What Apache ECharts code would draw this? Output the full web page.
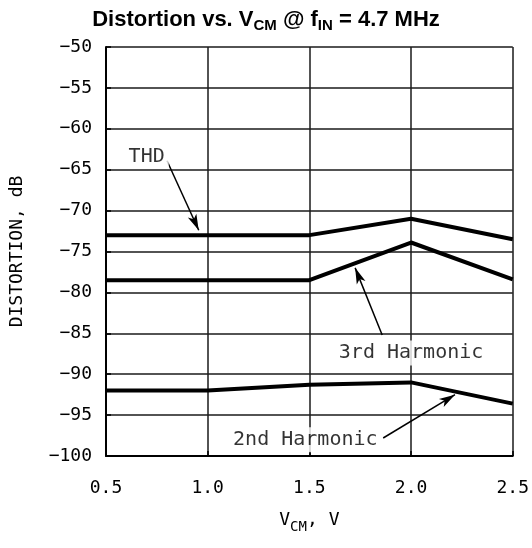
<!DOCTYPE html>
<html>
<head>
<meta charset="utf-8">
<script src="https://cdn.jsdelivr.net/npm/echarts@6/dist/echarts.min.js"></script>
<style>
  html, body { margin: 0; padding: 0; background: #fff; }
  #chart { width: 532px; height: 548px; }
</style>
</head>
<body>
<div id="chart"></div>
<script>
const vcm = [0.5, 1.0, 1.5, 2.0, 2.5];
const thd = [-73, -73, -73, -71, -73.5];
const third = [-78.5, -78.5, -78.5, -73.9, -78.4];
const second = [-92, -92, -91.3, -91, -93.6];

// annotation text anchors and arrows, in data units
const labelText = ['THD', '3rd Harmonic', '2nd Harmonic'];
const labelPos = [[0.70, -63.4], [2.0, -87.4], [1.48, -98.0]];
const arrowFrom = [[0.80, -63.9], [1.858, -85.2], [1.863, -97.8]];
const arrowTo = [[0.956, -72.4], [1.725, -77.0], [2.216, -92.5]];

const monoFont = 'DejaVu Sans Mono';
const ink = '#000';

function pairs(xs, ys) {
    return xs.map(function (x, i) { return [x, ys[i]]; });
}

function curve(name, ys) {
    return {
        name: name,
        type: 'line',
        data: pairs(vcm, ys),
        symbol: 'none',
        lineStyle: { color: ink, width: 4 },
        z: 3,
        silent: true
    };
}

const chart = echarts.init(document.getElementById('chart'));

chart.setOption({
    backgroundColor: '#fff',
    animation: false,
    title: {
        text: '{b|Distortion vs. V}{s|CM}{b| @ f}{s|IN}{b| = 4.7 MHz}',
        left: 'center',
        top: 2,
        textStyle: {
            rich: {
                b: { fontFamily: 'Liberation Sans', fontWeight: 'bold', fontSize: 22, color: ink },
                s: { fontFamily: 'Liberation Sans', fontWeight: 'bold', fontSize: 15, color: ink, verticalAlign: 'bottom', padding: [11, 0, 0, 0] }
            }
        }
    },
    grid: { left: 105, right: 19, top: 47, bottom: 92 },
    xAxis: {
        type: 'value',
        min: 0.5,
        max: 2.5,
        interval: 0.5,
        name: '{v|V}{s|CM}{v|, V}',
        nameLocation: 'middle',
        nameGap: 50,
        nameTextStyle: {
            rich: {
                v: { fontFamily: monoFont, fontSize: 18, color: ink },
                s: { fontFamily: monoFont, fontSize: 14, color: ink, verticalAlign: 'bottom', padding: [14, 0, 0, 0] }
            }
        },
        axisLine: { lineStyle: { color: ink, width: 2 } },
        axisTick: { inside: true, length: 5, lineStyle: { color: ink, width: 1.5 } },
        axisLabel: {
            fontFamily: monoFont, fontSize: 18, color: ink, margin: 23,
            formatter: function (v) { return v.toFixed(1); }
        },
        splitLine: { show: true, lineStyle: { color: '#1a1a1a', width: 1.5 } }
    },
    yAxis: {
        type: 'value',
        min: -100,
        max: -50,
        interval: 5,
        name: 'DISTORTION, dB',
        nameLocation: 'middle',
        nameGap: 80,
        nameTextStyle: { fontFamily: monoFont, fontSize: 18, color: ink },
        axisLine: { show: true, lineStyle: { color: ink, width: 2 } },
        axisTick: { show: true, inside: true, length: 5, lineStyle: { color: ink, width: 1.5 } },
        axisLabel: {
            fontFamily: monoFont, fontSize: 18, color: ink, margin: 14,
            formatter: function (v) { return String(v).replace('-', '\u2212'); }
        },
        splitLine: { show: true, lineStyle: { color: '#1a1a1a', width: 1.5 } }
    },
    series: [
        curve('THD', thd),
        curve('3rd Harmonic', third),
        curve('2nd Harmonic', second),
        {
            name: 'arrows',
            type: 'line',
            data: [],
            silent: true,
            markLine: {
                silent: true,
                symbol: ['none', 'arrow'],
                symbolSize: [7, 16],
                label: { show: false },
                lineStyle: { color: ink, width: 1.5, type: 'solid' },
                data: arrowFrom.map(function (p, i) {
                    return [{ coord: p }, { coord: arrowTo[i] }];
                })
            },
            z: 4
        },
        {
            name: 'labels',
            type: 'scatter',
            symbolSize: 0,
            silent: true,
            data: labelPos.map(function (p, i) {
                return { value: p, name: labelText[i] };
            }),
            label: {
                show: true,
                position: 'inside',
                formatter: '{b}',
                fontFamily: monoFont,
                fontSize: 20,
                color: ink,
                backgroundColor: '#fff',
                padding: [3, 4, 2, 4]
            },
            z: 5
        }
    ]
});
</script>
</body>
</html>
